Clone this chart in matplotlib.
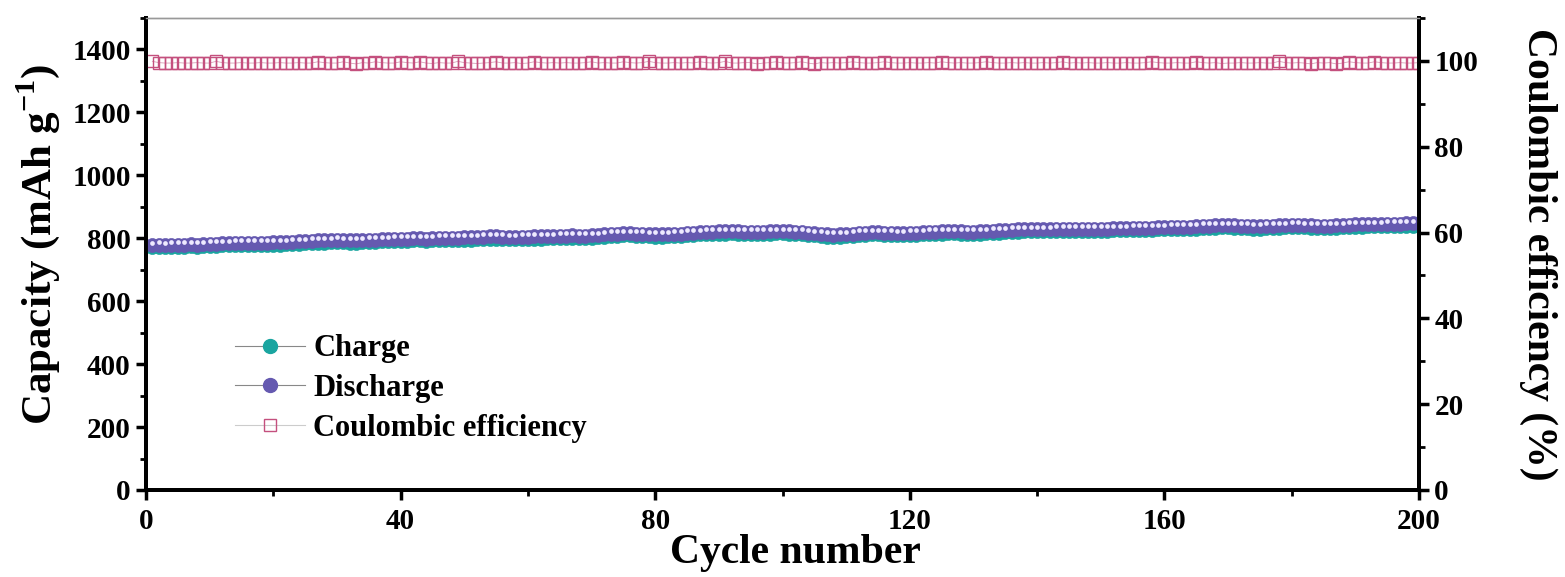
import matplotlib
matplotlib.use('Agg')
import matplotlib.pyplot as plt
import matplotlib.transforms as mtransforms
from matplotlib.lines import Line2D
from matplotlib.ticker import MultipleLocator

plt.rcParams['font.family'] = ['Liberation Serif', 'DejaVu Serif']
plt.rcParams['font.weight'] = 'bold'
plt.rcParams['mathtext.fontset'] = 'custom'
plt.rcParams['mathtext.rm'] = 'Liberation Serif:bold'
plt.rcParams['mathtext.bf'] = 'Liberation Serif:bold'

cycles = list(range(1, 201))

discharge = [
    778, 779, 778, 780, 779, 780, 781, 780, 781, 782,
    783, 784, 784, 785, 785, 786, 785, 786, 786, 787,
    787, 788, 789, 790, 791, 792, 793, 793, 794, 795,
    794, 793, 793, 794, 795, 796, 797, 797, 798, 799,
    799, 800, 800, 799, 800, 801, 801, 802, 802, 803,
    803, 804, 805, 806, 806, 805, 804, 804, 805, 805,
    806, 806, 807, 807, 808, 808, 809, 808, 808, 809,
    810, 812, 814, 815, 816, 816, 815, 814, 813, 812,
    812, 813, 814, 815, 817, 818, 819, 820, 821, 822,
    822, 823, 822, 821, 820, 820, 821, 822, 823, 823,
    822, 821, 820, 818, 816, 814, 812, 811, 812, 813,
    815, 817, 818, 819, 819, 818, 817, 816, 816, 817,
    818, 819, 820, 821, 822, 823, 823, 822, 821, 821,
    822, 823, 824, 825, 826, 827, 828, 829, 829, 829,
    829, 829, 830, 830, 830, 830, 831, 831, 831, 831,
    831, 832, 832, 832, 833, 833, 834, 834, 835, 835,
    836, 836, 836, 837, 838, 839, 840, 841, 842, 842,
    841, 840, 839, 838, 838, 839, 840, 841, 842, 843,
    843, 842, 841, 840, 840, 840, 841, 842, 843, 844,
    844, 845, 845, 845, 846, 846, 846, 847, 847, 847,
]

charge = [
    771, 772, 771, 773, 772, 773, 774, 773, 774, 775,
    776, 777, 777, 778, 778, 779, 778, 779, 779, 780,
    780, 781, 782, 783, 784, 785, 786, 786, 787, 788,
    787, 786, 786, 787, 788, 789, 790, 790, 791, 792,
    792, 793, 793, 792, 793, 794, 794, 795, 795, 796,
    796, 797, 798, 799, 799, 798, 797, 797, 798, 798,
    799, 799, 800, 800, 801, 801, 802, 801, 801, 802,
    803, 805, 807, 808, 809, 809, 808, 807, 806, 805,
    805, 806, 807, 808, 810, 811, 812, 813, 814, 815,
    815, 816, 815, 814, 813, 813, 814, 815, 816, 816,
    815, 814, 813, 811, 809, 807, 805, 804, 805, 806,
    808, 810, 811, 812, 812, 811, 810, 809, 809, 810,
    811, 812, 813, 814, 815, 816, 816, 815, 814, 814,
    815, 816, 817, 818, 819, 820, 821, 822, 822, 822,
    822, 822, 823, 823, 823, 823, 824, 824, 824, 824,
    824, 825, 825, 825, 826, 826, 827, 827, 828, 828,
    829, 829, 829, 830, 831, 832, 833, 834, 835, 835,
    834, 833, 832, 831, 831, 832, 833, 834, 835, 836,
    836, 835, 834, 833, 833, 833, 834, 835, 836, 837,
    837, 838, 838, 838, 839, 839, 839, 840, 840, 840,
]

efficiency = [
    99.9, 99.6, 99.5, 99.5, 99.6, 99.5, 99.5, 99.6, 99.5, 99.5,
    99.9, 99.6, 99.5, 99.5, 99.6, 99.5, 99.5, 99.6, 99.5, 99.5,
    99.6, 99.5, 99.5, 99.6, 99.5, 99.5, 99.8, 99.6, 99.5, 99.5,
    99.8, 99.5, 99.3, 99.6, 99.5, 99.8, 99.6, 99.5, 99.5, 99.8,
    99.6, 99.5, 99.8, 99.5, 99.4, 99.6, 99.5, 99.5, 99.9, 99.6,
    99.5, 99.4, 99.5, 99.6, 99.8, 99.5, 99.5, 99.6, 99.4, 99.5,
    99.8, 99.6, 99.5, 99.6, 99.5, 99.6, 99.5, 99.5, 99.6, 99.8,
    99.5, 99.6, 99.5, 99.5, 99.8, 99.6, 99.5, 99.6, 99.9, 99.6,
    99.5, 99.5, 99.6, 99.5, 99.6, 99.5, 99.8, 99.6, 99.5, 99.6,
    99.9, 99.5, 99.5, 99.6, 99.6, 99.3, 99.5, 99.6, 99.8, 99.5,
    99.5, 99.6, 99.8, 99.5, 99.3, 99.6, 99.5, 99.6, 99.5, 99.6,
    99.8, 99.6, 99.5, 99.5, 99.6, 99.8, 99.6, 99.5, 99.5, 99.6,
    99.5, 99.5, 99.6, 99.5, 99.8, 99.6, 99.5, 99.6, 99.5, 99.5,
    99.6, 99.8, 99.6, 99.5, 99.5, 99.6, 99.5, 99.6, 99.5, 99.5,
    99.6, 99.5, 99.6, 99.8, 99.5, 99.6, 99.5, 99.6, 99.5, 99.5,
    99.6, 99.5, 99.5, 99.6, 99.5, 99.5, 99.6, 99.8, 99.6, 99.5,
    99.5, 99.6, 99.5, 99.5, 99.8, 99.6, 99.5, 99.6, 99.4, 99.5,
    99.5, 99.6, 99.5, 99.5, 99.6, 99.5, 99.5, 99.9, 99.6, 99.5,
    99.6, 99.5, 99.3, 99.6, 99.5, 99.6, 99.3, 99.5, 99.8, 99.6,
    99.5, 99.5, 99.8, 99.6, 99.5, 99.5, 99.6, 99.5, 99.5, 99.6,
]

charge_color = '#1aa5a0'
discharge_color = '#6559b0'
ce_color = '#c4507e'

fig = plt.figure(figsize=(15.65, 5.77), dpi=100)
ax = fig.add_axes([0.0933, 0.1508, 0.8134, 0.818])
ax2 = ax.twinx()

# spheres: solid disc plus a small bright highlight shifted upward
hl = mtransforms.offset_copy(ax.transData, fig=fig, x=0, y=1.8, units='points')
ax.plot(cycles, charge, '-o', color='#888888', lw=0.8, ms=10,
        mfc=charge_color, mec=charge_color, mew=0.5, zorder=3)
ax.plot(cycles, charge, 'o', ms=3, mfc='#bff0ec', mec='none',
        transform=hl, zorder=3)
ax.plot(cycles, discharge, '-o', color='#888888', lw=0.8, ms=10,
        mfc=discharge_color, mec=discharge_color, mew=0.5, zorder=4)
ax.plot(cycles, discharge, 'o', ms=3.4, mfc='#eeeaff', mec='none',
        transform=hl, zorder=4)

ax2.plot(cycles, efficiency, '-s', color='#d8a0b8', lw=0.6, ms=8.5,
         mfc='none', mec=ce_color, mew=1.0)

ax.set_xlim(0, 200)
ax.set_ylim(0, 1500)
ax2.set_ylim(0, 110)

ax.xaxis.set_major_locator(MultipleLocator(40))
ax.xaxis.set_minor_locator(MultipleLocator(20))
ax.yaxis.set_major_locator(MultipleLocator(200))
ax.yaxis.set_minor_locator(MultipleLocator(100))
ax2.yaxis.set_major_locator(MultipleLocator(20))
ax2.yaxis.set_minor_locator(MultipleLocator(10))

for a in (ax, ax2):
    a.tick_params(which='major', direction='out', length=7, width=2.5,
                  labelsize=21, pad=4)
    a.tick_params(which='minor', direction='out', length=4, width=2)
    for s in ('left', 'bottom', 'right'):
        a.spines[s].set_linewidth(2.8)
    a.spines['top'].set_linewidth(1.0)
    a.spines['top'].set_color('#999999')
ax.tick_params(axis='x', pad=6)

ax.set_xlabel('Cycle number', fontsize=30, fontweight='bold')
ax.xaxis.set_label_coords(0.51, -0.093)
ax.set_ylabel('Capacity (mAh g$^{-1}$)', fontsize=31, fontweight='bold')
ax.yaxis.set_label_coords(-0.066, 0.52)
ax2.set_ylabel('Coulombic efficiency (%)', fontsize=30, fontweight='bold',
               rotation=-90)
ax2.yaxis.set_label_coords(1.109, 0.5)

handles = [
    Line2D([], [], color='#888888', lw=0.8, marker='o', ms=10,
           mfc=charge_color, mec=charge_color),
    Line2D([], [], color='#888888', lw=0.8, marker='o', ms=10,
           mfc=discharge_color, mec=discharge_color),
    Line2D([], [], color='#cccccc', lw=0.8, marker='s', ms=9,
           mfc='none', mec=ce_color, mew=1.0),
]
ax2.legend(handles, ['Charge', 'Discharge', 'Coulombic efficiency'],
           loc='upper left', bbox_to_anchor=(0.07, 0.33), frameon=False,
           borderaxespad=0, borderpad=0,
           prop={'size': 22, 'weight': 'bold'}, handlelength=2.3,
           handletextpad=0.25, labelspacing=0.35)

fig.savefig('out.png', dpi=100)
